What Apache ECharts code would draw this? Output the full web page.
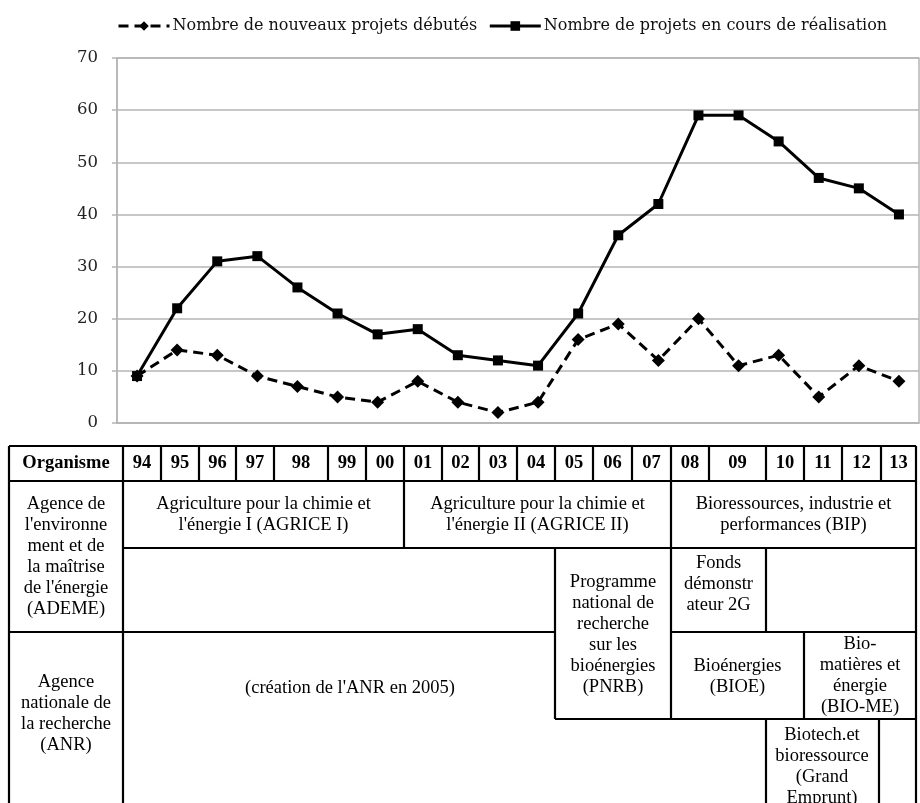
<!DOCTYPE html>
<html>
<head>
<meta charset="utf-8">
<script src="https://cdn.jsdelivr.net/npm/echarts@6/dist/echarts.min.js"></script>
<style>
html,body{margin:0;padding:0;background:#fff;}
#c{width:920px;height:803px;}
</style>
</head>
<body>
<div id="c"></div>
<script>
// ---- data ----
var years = ['94','95','96','97','98','99','00','01','02','03','04','05','06','07','08','09','10','11','12','13'];
var seriesNames = ['Nombre de nouveaux projets débutés', 'Nombre de projets en cours de réalisation'];
var nouveaux = [9,14,13,9,7,5,4,8,4,2,4,16,19,12,20,11,13,5,11,8];
var enCours = [9,22,31,32,26,21,17,18,13,12,11,21,36,42,59,59,54,47,45,40];
var yTicks = [0,10,20,30,40,50,60,70];

// table texts
var headerLabel = 'Organisme';
var organismes = [
  "Agence de\nl'environne\nment et de\nla maîtrise\nde l'énergie\n(ADEME)",
  "Agence\nnationale de\nla recherche\n(ANR)"
];
var programmes = [
  "Agriculture pour la chimie et\nl'énergie I (AGRICE I)",
  "Agriculture pour la chimie et\nl'énergie II (AGRICE II)",
  "Bioressources, industrie et\nperformances (BIP)",
  "Programme\nnational de\nrecherche\nsur les\nbioénergies\n(PNRB)",
  "Fonds\ndémonstr\nateur 2G",
  "(création de l'ANR en 2005)",
  "Bioénergies\n(BIOE)",
  "Bio-\nmatières et\nénergie\n(BIO-ME)",
  "Biotech.et\nbioressource\n(Grand\nEmprunt)"
];

// ---- layout (positions only) ----
var colX = [123,161,199,236,274,328,366,404,442,479,517,555,593,632,671,709,766,804,842,881,916];
var TOP = 446, HEAD = 481, R1 = 548, R2 = 632, R3 = 719, BOT = 803, LEFT = 9;
var hLines = [
  [LEFT,TOP,916,TOP],[LEFT,HEAD,916,HEAD],[123,R1,916,R1],
  [LEFT,R2,555,R2],[671,R2,916,R2],[555,R3,916,R3]
];
var vLines = [
  [LEFT,TOP,LEFT,BOT],[123,TOP,123,BOT],[916,TOP,916,BOT],
  [404,HEAD,404,R1],[671,HEAD,671,R3],[555,R1,555,R3],
  [766,R1,766,R2],[766,R3,766,BOT],[804,R2,804,R3],[879,R3,879,BOT]
];
for (var i = 1; i < colX.length - 1; i++) vLines.push([colX[i],TOP,colX[i],HEAD]);

var progPos = [
  [263.5,514.5],[537.5,514.5],[793.5,514.5],
  [613,634.5],[718.5,584],[350,688],[737.5,677],[860,676],[822,766.5]
];
var orgPos = [[66,557],[66,714]];

var FONT = '18.5px "Liberation Serif", "Times New Roman", serif';
var FONTB = 'bold 18.5px "Liberation Serif", "Times New Roman", serif';

var graphics = [];
hLines.concat(vLines).forEach(function(l){
  graphics.push({type:'line', silent:true, shape:{x1:l[0],y1:l[1],x2:l[2],y2:l[3]},
    style:{stroke:'#000', lineWidth:2.2}});
});
graphics.push({type:'text', x:66, y:(TOP+HEAD)/2, style:{text:headerLabel, font:FONTB, fill:'#000', textAlign:'center', textVerticalAlign:'middle'}});
years.forEach(function(y, i){
  graphics.push({type:'text', x:(colX[i]+colX[i+1])/2, y:(TOP+HEAD)/2,
    style:{text:y, font:FONTB, fill:'#000', textAlign:'center', textVerticalAlign:'middle'}});
});
organismes.forEach(function(t, i){
  graphics.push({type:'text', x:orgPos[i][0], y:orgPos[i][1],
    style:{text:t, font:FONT, lineHeight:21, fill:'#000', textAlign:'center', textVerticalAlign:'middle'}});
});
programmes.forEach(function(t, i){
  graphics.push({type:'text', x:progPos[i][0], y:progPos[i][1],
    style:{text:t, font:FONT, lineHeight:21, fill:'#000', textAlign:'center', textVerticalAlign:'middle'}});
});

var chart = echarts.init(document.getElementById('c'), null, {renderer:'canvas'});
var serifFont = '"DejaVu Serif", serif';
chart.setOption({
  animation:false,
  backgroundColor:'#fff',
  legend:{
    top:18, left:117, padding:0, itemWidth:51, itemHeight:12, itemGap:11,
    lineStyle:{width:3},
    textStyle:{fontFamily:serifFont, fontSize:16, color:'#111', padding:[0,0,0,-2]},
    data:seriesNames
  },
  grid:{left:117, right:1, top:58, bottom:380, show:true, borderColor:'#b5b5b5', borderWidth:1.5},
  xAxis:{
    type:'category', data:years, boundaryGap:true,
    axisLine:{show:true, lineStyle:{color:'#b5b5b5', width:1.5}},
    axisTick:{show:false}, axisLabel:{show:false}
  },
  yAxis:{
    type:'value', min:yTicks[0], max:yTicks[yTicks.length-1], interval:10,
    axisLine:{show:true, lineStyle:{color:'#b5b5b5', width:1.5}},
    axisTick:{show:true, length:5, lineStyle:{color:'#b5b5b5', width:1.5}},
    axisLabel:{fontFamily:serifFont, fontSize:16.5, color:'#222', margin:19},
    splitLine:{lineStyle:{color:'#b5b5b5', width:1.5}}
  },
  series:[
    {name:seriesNames[0], type:'line', data:nouveaux, symbol:'diamond', symbolSize:13,
      lineStyle:{color:'#000', width:3, type:[10,6]}, itemStyle:{color:'#000'}, z:3},
    {name:seriesNames[1], type:'line', data:enCours, symbol:'rect', symbolSize:10,
      lineStyle:{color:'#000', width:3}, itemStyle:{color:'#000'}, z:2}
  ],
  graphic:graphics
});
</script>
</body>
</html>
